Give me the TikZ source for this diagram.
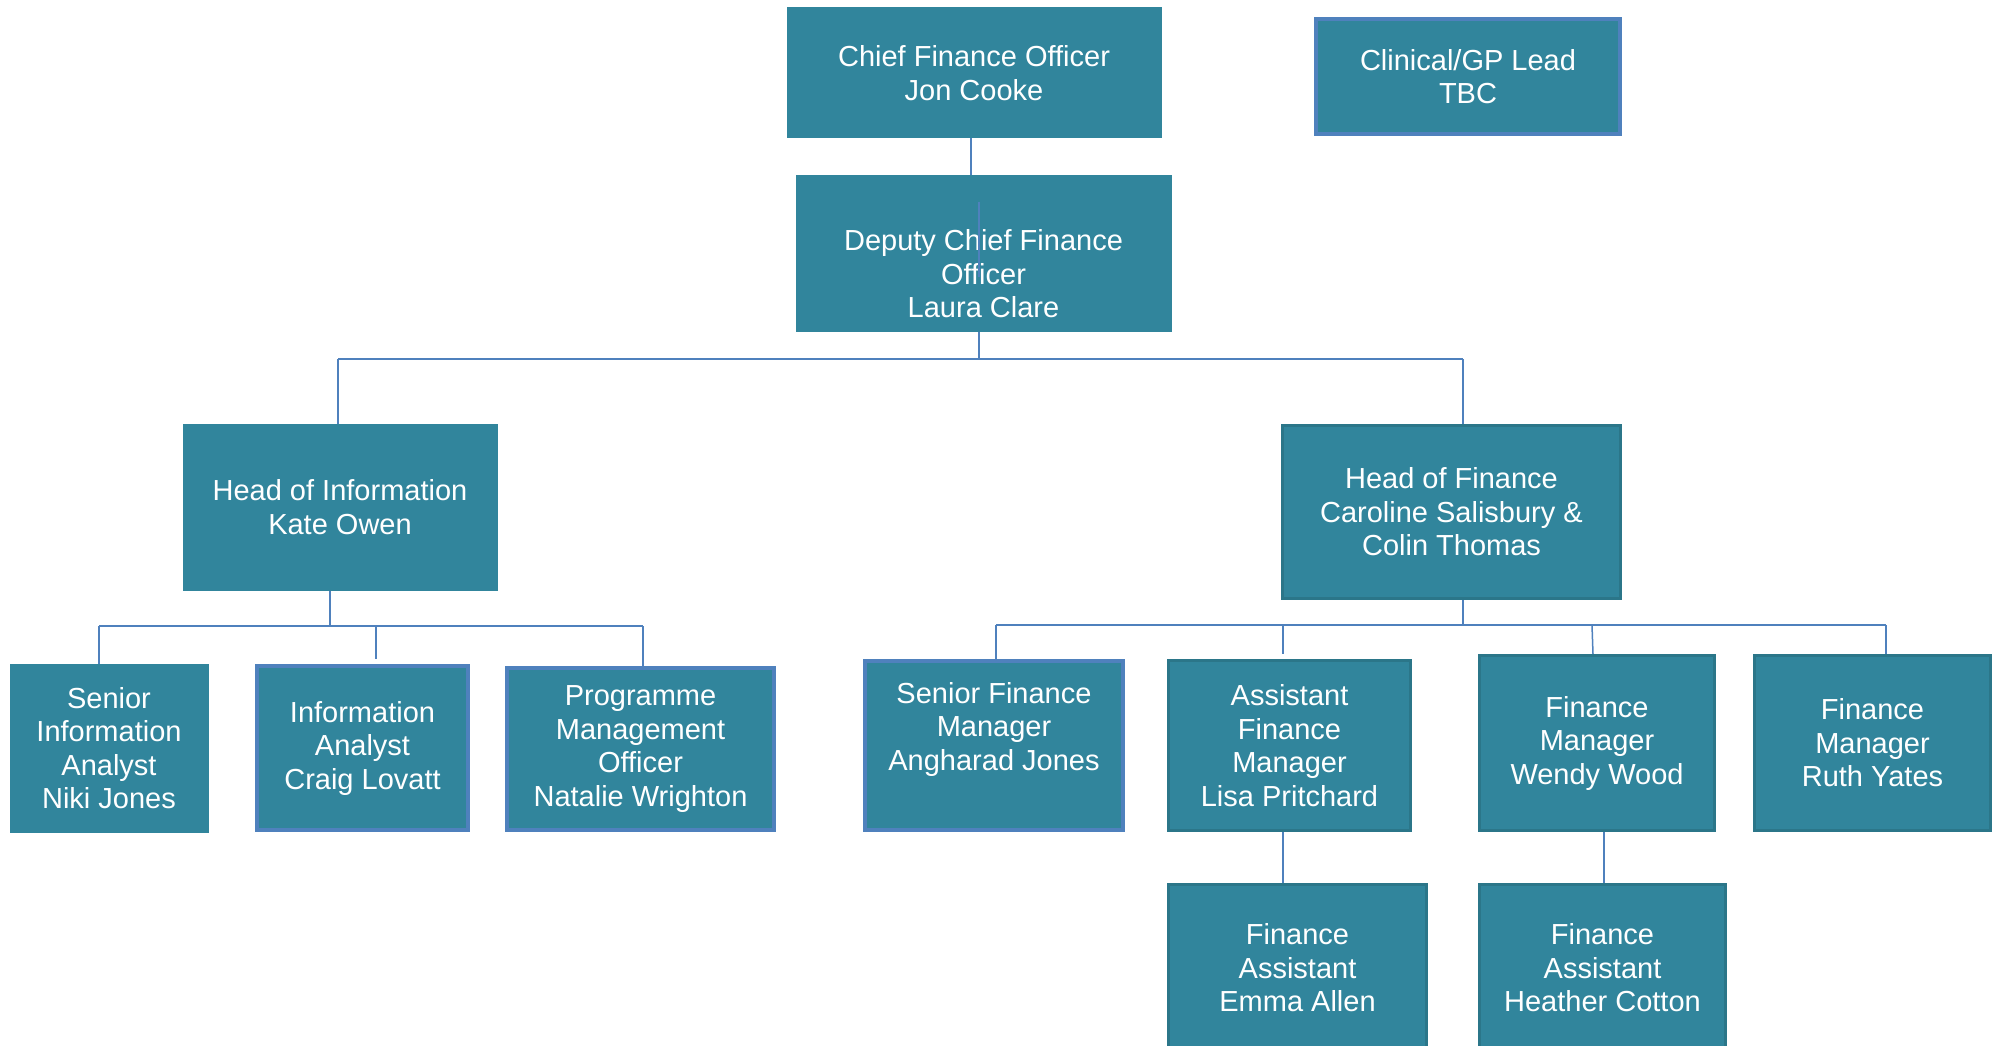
\documentclass[tikz,border=0pt]{standalone}
\usepackage{fontspec}
\setmainfont{Liberation Sans}
\definecolor{tealfill}{HTML}{31859C}
\definecolor{blueline}{HTML}{4F81BD}
\definecolor{darkedge}{HTML}{2B7689}
\begin{document}
\begin{tikzpicture}[x=1pt,y=-1pt,
  box/.style={rectangle, fill=tealfill, draw=tealfill, line width=1pt, text=white, align=center,
    inner sep=0pt, font=\fontsize{29}{33.5}\selectfont},
  bluebox/.style={box, draw=blueline, line width=4pt},
  darkbox/.style={box, draw=darkedge, line width=3pt},
  txt/.style={text=white, align=center, inner sep=0pt, font=\fontsize{29}{33.5}\selectfont},
  conn/.style={draw=blueline, line width=1.5pt}]
\useasboundingbox (0,0) rectangle (1998,1046);
\fill[white] (0,0) rectangle (1998,1046);

% boxes
\node[box, minimum width=374pt, minimum height=130pt] (cfo) at (974,73) {Chief Finance Officer\\Jon Cooke};
\node[bluebox, minimum width=304pt, minimum height=115pt] (gp) at (1468,76.5) {Clinical/GP Lead\\TBC};
\node[box, minimum width=375pt, minimum height=155pt] (dep) at (983.5,253.5) {};
\node[txt] (deptext) at (983.5,274) {Deputy Chief Finance\\Officer\\Laura Clare};
\node[box, minimum width=314pt, minimum height=166pt] (hoi) at (340,507) {Head of Information\\Kate Owen};
\node[darkbox, minimum width=338pt, minimum height=173pt] (hof) at (1451.5,512) {Head of Finance\\Caroline Salisbury \&\\Colin Thomas};

\node[box, minimum width=198pt, minimum height=168pt] (sia) at (109,748) {Senior\\Information\\Analyst\\Niki Jones};
\node[bluebox, minimum width=211pt, minimum height=164pt] (ia) at (362.5,748) {Information\\Analyst\\Craig Lovatt};
\node[bluebox, minimum width=267pt, minimum height=162pt] (pmo) at (640.5,749) {Programme\\Management\\Officer\\Natalie Wrighton};

\node[bluebox, minimum width=258pt, minimum height=169pt] (sfm) at (994,745.5) {};
\node[txt] (sfmtext) at (994,729) {Senior Finance\\Manager\\Angharad Jones};
\node[darkbox, minimum width=242pt, minimum height=170pt] (afm) at (1289.5,745.5) {Assistant\\Finance\\Manager\\Lisa Pritchard};
\node[darkbox, minimum width=235pt, minimum height=175pt] (fmw) at (1597,743) {Finance\\Manager\\Wendy Wood};
\node[darkbox, minimum width=236pt, minimum height=175pt] (fmr) at (1872.5,743) {Finance\\Manager\\Ruth Yates};

\node[darkbox, minimum width=258pt, minimum height=168pt] (fae) at (1297.5,968) {Finance\\Assistant\\Emma Allen};
\node[darkbox, minimum width=246pt, minimum height=168pt] (fah) at (1602.5,968) {Finance\\Assistant\\Heather Cotton};

% connector junctions
\coordinate (bar1) at (979,359);
\coordinate (bar2) at (330,626);
\coordinate (bar3) at (1463,625);

% CFO to deputy
\draw[conn] ([xshift=-3pt]cfo.south) -- ([xshift=-3pt]cfo.south |- dep.north);
% line visible inside deputy box
\draw[conn] (bar1 |- 0,202) -- (bar1 |- 0,277);
\draw[conn] (dep.south -| bar1) -- (bar1);
\draw[conn] (338,359) -- (1463,359);
\draw[conn] (338,359) -- (hoi.north -| 338,0);
\draw[conn] (1463,359) -- (hof.north -| 1463,0);

% Head of Information children
\draw[conn] (hoi.south -| bar2) -- (bar2);
\draw[conn] (99,626) -- (643,626);
\draw[conn] (99,626) -- (sia.north -| 99,0);
\draw[conn] (376,626) -- (376,659);
\draw[conn] (643,626) -- (pmo.north -| 643,0);

% Head of Finance children
\draw[conn] (hof.south -| bar3) -- (bar3);
\draw[conn] (996,625) -- (1886,625);
\draw[conn] (996,625) -- (sfm.north -| 996,0);
\draw[conn] (1283,625) -- (1283,654);
\draw[conn] (1592,625) -- (fmw.north -| 1593,0);
\draw[conn] (1886,625) -- (fmr.north -| 1886,0);

% level 4
\draw[conn] (afm.south -| 1283,0) -- (fae.north -| 1283,0);
\draw[conn] (fmw.south -| 1604,0) -- (fah.north -| 1604,0);
\end{tikzpicture}
\end{document}
